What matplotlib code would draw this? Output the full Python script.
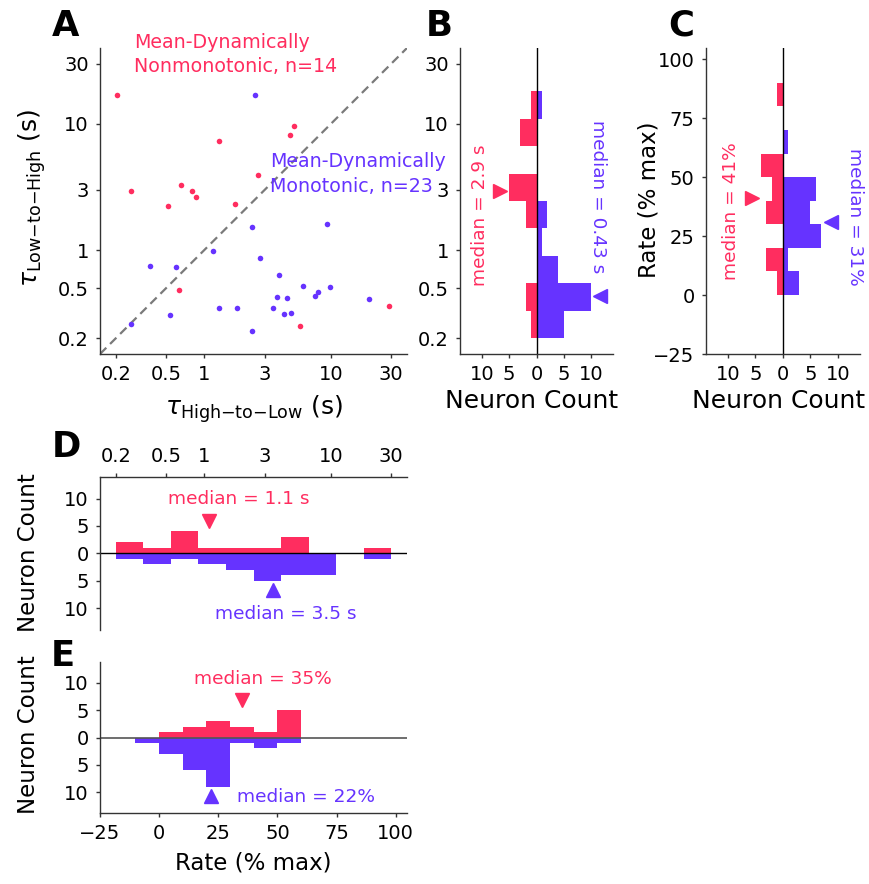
import numpy as np
import matplotlib.pyplot as plt
from matplotlib.ticker import FixedLocator, FuncFormatter, NullLocator

red = '#ff2d5f'
blue = '#6633ff'

# time constants (s) per neuron
tau_hl_nonmono = [0.206, 0.263, 0.52, 0.66, 0.80, 0.855, 0.628, 1.31, 1.76,
                  2.67, 4.74, 5.13, 5.72, 29.0]
tau_lh_nonmono = [17.0, 2.93, 2.23, 3.31, 2.93, 2.63, 0.484, 7.27, 2.34,
                  3.95, 8.16, 9.6, 0.252, 0.362]
tau_hl_mono = [2.5, 2.39, 9.34, 1.17, 2.75, 0.375, 0.60, 3.91, 6.08, 9.86,
               3.79, 4.49, 7.47, 7.98, 20.1, 1.31, 1.80, 3.50, 4.28, 4.88,
               0.533, 0.263, 2.39]
tau_lh_mono = [17.0, 1.52, 1.60, 0.99, 0.871, 0.744, 0.735, 0.636, 0.518,
               0.51, 0.421, 0.416, 0.432, 0.464, 0.409, 0.349, 0.345, 0.345,
               0.309, 0.316, 0.308, 0.26, 0.227]

# rate histograms (% max), 10% bins starting at -10
rate_edges = [-10, 0, 10, 20, 30, 40, 50, 60, 70, 80, 90]
rate_c_nonmono = [0, 1, 3, 0, 3, 2, 4, 0, 0, 1]
rate_c_mono = [0, 3, 1, 7, 5, 6, 0, 1, 0, 0]
rate_e_nonmono = [0, 1, 2, 3, 2, 1, 5, 0, 0, 0]
rate_e_mono = [1, 3, 6, 9, 1, 2, 1, 0, 0, 0]
rate_c_median = [41, 31]
rate_e_median = [35, 22]

log_ticks = [0.2, 0.5, 1, 3, 10, 30]
log_labels = ['0.2', '0.5', '1', '3', '10', '30']
tau_edges = np.logspace(np.log10(0.2), np.log10(30), 11)

W, H = 869, 884
fig = plt.figure(figsize=(W / 100, H / 100), dpi=100)


def box(l, t, r, b):
    return [l / W, 1 - b / H, (r - l) / W, (b - t) / H]


def style(ax, spines):
    for s in ['top', 'right', 'bottom', 'left']:
        ax.spines[s].set_visible(s in spines)
        ax.spines[s].set_color('#333333')
        ax.spines[s].set_linewidth(1.0)
    ax.tick_params(direction='out', length=3, width=1, color='#333333',
                   labelsize=14, pad=5)


absfmt = FuncFormatter(lambda v, p: '%d' % abs(v))

ax_a = fig.add_axes(box(100, 48, 407, 354))
ax_b = fig.add_axes(box(460, 48, 613, 354))
ax_c = fig.add_axes(box(705.7, 48, 860, 354))
ax_d = fig.add_axes(box(100, 476.7, 407, 630))
ax_e = fig.add_axes(box(100, 661.7, 407, 813.3))

# ---- A
ax = ax_a
ax.set_xscale('log')
ax.set_yscale('log')
ax.plot([0.15, 40], [0.15, 40], color='#7a7a7a', lw=1.6, ls=(0, (4, 2.4)))
ax.scatter(tau_hl_nonmono, tau_lh_nonmono, s=16, c=red, lw=0, zorder=3)
ax.scatter(tau_hl_mono, tau_lh_mono, s=16, c=blue, lw=0, zorder=3)
ax.set_xlim(0.15, 40)
ax.set_ylim(0.15, 40)
for axis in [ax.xaxis, ax.yaxis]:
    axis.set_major_locator(FixedLocator(log_ticks))
    axis.set_minor_locator(NullLocator())
ax.set_xticklabels(log_labels)
ax.set_yticklabels(log_labels)
style(ax, ['left', 'bottom'])
ax.text(0.279, 40.1, 'Mean-Dynamically', color=red, fontsize=13.7, clip_on=False)
ax.text(0.279, 25.8, 'Nonmonotonic, n=14', color=red, fontsize=13.7)
ax.text(3.3, 4.53, 'Mean-Dynamically', color=blue, fontsize=13.7, clip_on=False)
ax.text(3.3, 2.88, 'Monotonic, n=23', color=blue, fontsize=13.7)
ax.set_xlabel(r'$\tau_{\mathrm{High{-}to{-}Low}}$ (s)', fontsize=18)
ax.set_ylabel(r'$\tau_{\mathrm{Low{-}to{-}High}}$ (s)', fontsize=18)
ax.xaxis.set_label_coords(0.5, -0.13)
ax.yaxis.set_label_coords(-0.17, 0.51)

# ---- B
ax = ax_b
ax.set_yscale('log')
cnt_r, _ = np.histogram(tau_lh_nonmono, tau_edges)
cnt_b, _ = np.histogram(tau_lh_mono, tau_edges)
ax.barh(tau_edges[:-1], -cnt_r, height=np.diff(tau_edges), align='edge',
        color=red, lw=0)
ax.barh(tau_edges[:-1], cnt_b, height=np.diff(tau_edges), align='edge',
        color=blue, lw=0)
ax.axvline(0, color='k', lw=1)
ax.plot(-6.7, np.median(tau_lh_nonmono), marker='>', ms=9.5, color=red,
        clip_on=False)
ax.plot(11.7, np.median(tau_lh_mono), marker='<', ms=9.5, color=blue,
        clip_on=False)
ax.text(-10.3, 1.88, 'median = 2.9 s', color=red, fontsize=13.3, rotation=90,
        ha='center', va='center')
ax.text(11.2, 2.63, 'median = 0.43 s', color=blue, fontsize=13.3,
        rotation=-90, ha='center', va='center', clip_on=False)
ax.set_ylim(0.15, 40)
ax.set_xlim(-14, 14)
ax.yaxis.set_major_locator(FixedLocator(log_ticks))
ax.yaxis.set_minor_locator(NullLocator())
ax.set_yticklabels(log_labels)
ax.set_xticks([-10, -5, 0, 5, 10])
ax.xaxis.set_major_formatter(absfmt)
style(ax, ['left', 'bottom'])
ax.set_xlabel('Neuron Count', fontsize=18)
ax.xaxis.set_label_coords(0.469, -0.115)

# ---- C
ax = ax_c
ax.barh(rate_edges[:-1], -np.array(rate_c_nonmono), height=10, align='edge',
        color=red, lw=0)
ax.barh(rate_edges[:-1], rate_c_mono, height=10, align='edge', color=blue,
        lw=0)
ax.axvline(0, color='k', lw=1)
ax.plot(-5.6, rate_c_median[0], marker='>', ms=9.5, color=red)
ax.plot(8.7, rate_c_median[1], marker='<', ms=9.5, color=blue)
ax.text(-9.4, 35.4, 'median = 41%', color=red, fontsize=13.3, rotation=90,
        ha='center', va='center')
ax.text(13.1, 33.2, 'median = 31%', color=blue, fontsize=13.3, rotation=-90,
        ha='center', va='center', clip_on=False)
ax.set_xlim(-14, 14)
ax.set_ylim(-25, 104.8)
ax.set_yticks([-25, 0, 25, 50, 75, 100])
ax.set_xticks([-10, -5, 0, 5, 10])
ax.xaxis.set_major_formatter(absfmt)
style(ax, ['left', 'bottom'])
ax.set_xlabel('Neuron Count', fontsize=18)
ax.xaxis.set_label_coords(0.47, -0.115)
ax.set_ylabel('Rate (% max)', fontsize=16.5)
ax.yaxis.set_label_coords(-0.295, 0.503)

# ---- D
ax = ax_d
ax.set_xscale('log')
cnt_r, _ = np.histogram(tau_hl_nonmono, tau_edges)
cnt_b, _ = np.histogram(tau_hl_mono, tau_edges)
ax.bar(tau_edges[:-1], cnt_r, width=np.diff(tau_edges), align='edge',
       color=red, lw=0)
ax.bar(tau_edges[:-1], -cnt_b, width=np.diff(tau_edges), align='edge',
       color=blue, lw=0)
ax.axhline(0, color='k', lw=1)
ax.plot(np.median(tau_hl_nonmono), 6.0, marker='v', ms=9.5, color=red)
ax.plot(np.median(tau_hl_mono), -6.7, marker='^', ms=9.5, color=blue)
ax.text(1.88, 9.0, 'median = 1.1 s', color=red, fontsize=13.3, ha='center')
ax.text(4.38, -11.9, 'median = 3.5 s', color=blue, fontsize=13.3,
        ha='center')
ax.set_xlim(0.15, 40)
ax.set_ylim(-14, 14)
ax.xaxis.tick_top()
ax.xaxis.set_major_locator(FixedLocator(log_ticks))
ax.xaxis.set_minor_locator(NullLocator())
ax.set_xticklabels(log_labels)
ax.set_yticks([-10, -5, 0, 5, 10])
ax.yaxis.set_major_formatter(absfmt)
style(ax, ['left', 'top'])
ax.set_ylabel('Neuron Count', fontsize=16.5)
ax.yaxis.set_label_coords(-0.195, 0.502)

# ---- E
ax = ax_e
ax.bar(rate_edges[:-1], rate_e_nonmono, width=10, align='edge', color=red,
       lw=0)
ax.bar(rate_edges[:-1], -np.array(rate_e_mono), width=10, align='edge',
       color=blue, lw=0)
ax.axhline(0, color='#555555', lw=1.2)
ax.plot(rate_e_median[0], 6.8, marker='v', ms=9.5, color=red)
ax.plot(rate_e_median[1], -10.7, marker='^', ms=9.5, color=blue)
ax.text(44, 9.9, 'median = 35%', color=red, fontsize=13.3, ha='center')
ax.text(33, -11.9, 'median = 22%', color=blue, fontsize=13.3)
ax.set_xlim(-25, 104.8)
ax.set_ylim(-13.9, 13.9)
ax.set_xticks([-25, 0, 25, 50, 75, 100])
ax.set_yticks([-10, -5, 0, 5, 10])
ax.yaxis.set_major_formatter(absfmt)
style(ax, ['left', 'bottom'])
ax.set_ylabel('Neuron Count', fontsize=16.5)
ax.yaxis.set_label_coords(-0.195, 0.516)
ax.set_xlabel('Rate (% max)', fontsize=16.5)
ax.xaxis.set_label_coords(0.5, -0.25)

# panel letters
for letter, x, y in [('A', 65.7, 36), ('B', 439.5, 36), ('C', 681, 36),
                     ('D', 66, 457), ('E', 63, 666)]:
    fig.text(x / W, 1 - y / H, letter, fontsize=25.5, fontweight='bold',
             ha='center', va='baseline')

fig.savefig('out.png', dpi=100)
